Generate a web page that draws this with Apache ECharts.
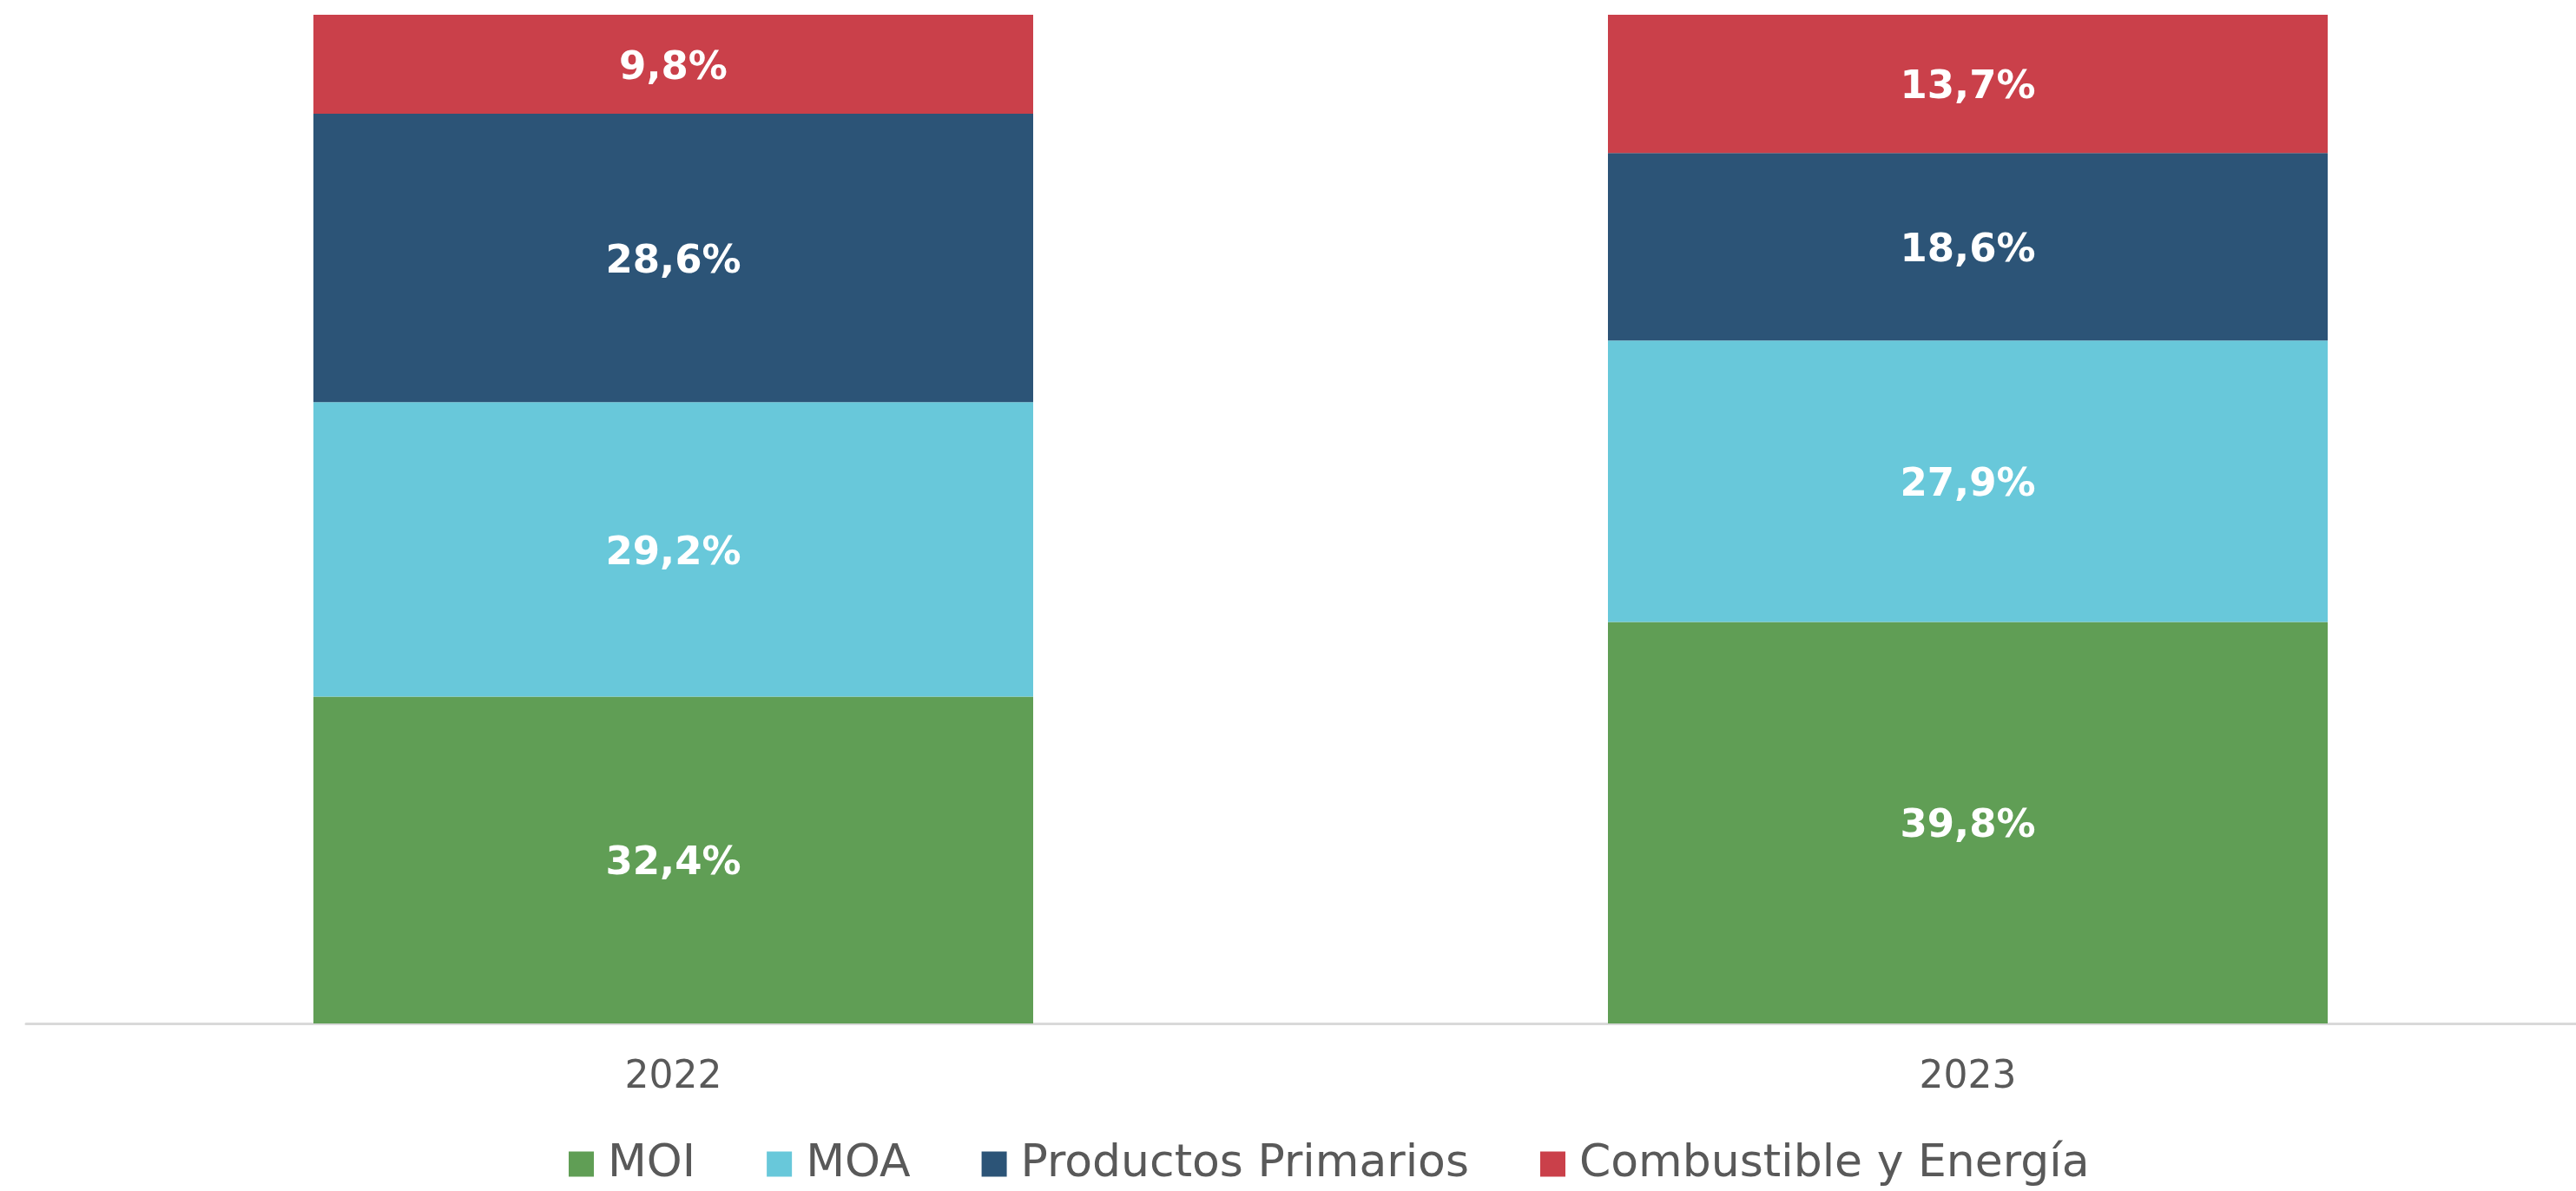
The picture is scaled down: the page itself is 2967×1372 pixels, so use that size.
<!DOCTYPE html>
<html>
<head>
<meta charset="utf-8">
<script src="https://cdn.jsdelivr.net/npm/echarts@6/dist/echarts.min.js"></script>
<style>html,body{margin:0;padding:0;background:#fff;}#c{width:2967px;height:1372px;}</style>
</head>
<body>
<div id="c"></div>
<script>
const categories = ['2022', '2023'];
const seriesNames = ['MOI', 'MOA', 'Productos Primarios', 'Combustible y Energía'];
const moi = [32.4, 39.8];
const moa = [29.2, 27.9];
const productosPrimarios = [28.6, 18.6];
const combustibleEnergia = [9.8, 13.7];
const colors = ['#609E55', '#68C8DA', '#2C5477', '#CA404A'];

const values = [moi, moa, productosPrimarios, combustibleEnergia];
const chart = echarts.init(document.getElementById('c'), null, {renderer: 'canvas'});
const fmt = p => p.value.toFixed(1).replace('.', ',') + '%';
chart.setOption({
  animation: false,
  backgroundColor: '#ffffff',
  textStyle: {fontFamily: 'DejaVu Sans'},
  grid: {left: 30, top: 17, width: 2982, height: 1162, containLabel: false, outerBoundsMode: 'none'},
  legend: {
    left: 650, top: 1310,
    itemWidth: 29, itemHeight: 29, itemGap: 82,
    icon: 'rect',
    data: seriesNames,
    textStyle: {fontFamily: 'DejaVu Sans', fontSize: 52, color: '#595959', lineHeight: 52, padding: [0, 0, 0, 11]}
  },
  xAxis: {
    type: 'category',
    data: categories,
    axisLine: {show: true, lineStyle: {color: '#d9d9d9', width: 3}},
    axisTick: {show: false},
    axisLabel: {fontFamily: 'DejaVu Sans', fontSize: 44, color: '#595959', margin: 41}
  },
  yAxis: {
    type: 'value', min: 0, max: 100, show: false,
    splitLine: {show: false}
  },
  series: seriesNames.map((n, i) => ({
    name: n,
    type: 'bar',
    stack: 'total',
    barWidth: 829,
    data: values[i],
    itemStyle: {color: colors[i]},
    label: {
      show: true, position: 'inside', formatter: fmt, offset: [0, 5],
      fontFamily: 'DejaVu Sans', fontWeight: 'bold', fontSize: 45, color: '#ffffff'
    }
  }))
});
</script>
</body>
</html>
